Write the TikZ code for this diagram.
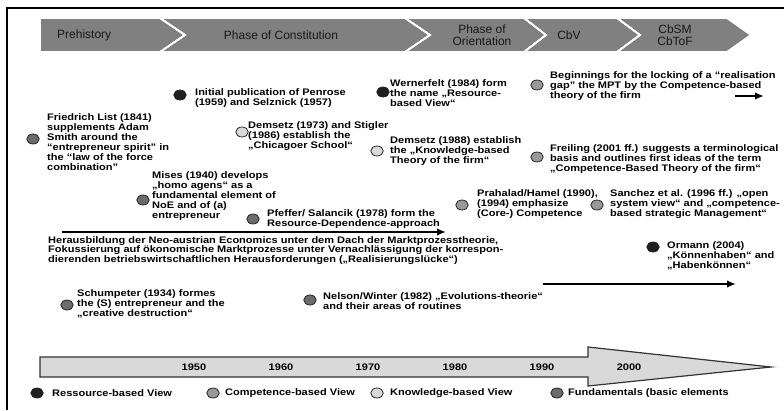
\documentclass[tikz,border=0pt]{standalone}
\usepackage{fontspec}
\setmainfont{Liberation Sans}
\newfontfamily\evfamily[FakeStretch=1.16]{Liberation Sans}
\usetikzlibrary{arrows.meta,shapes.geometric}

\begin{document}
\begin{tikzpicture}[x=1pt,y=-1pt,
  dot/.style={ellipse,draw=black!85,line width=0.8pt,minimum width=12.5pt,minimum height=10pt,inner sep=0pt},
  rbv/.style={dot,fill=black!88},
  cbv/.style={dot,fill=black!40},
  kbv/.style={dot,fill=black!15},
  fund/.style={dot,fill=black!58},
  evfont/.style={font=\evfamily\bfseries\fontsize{9.5}{10}\selectfont},
  event/.style={evfont,anchor=north west,inner sep=0pt,align=left},
  legend/.style={evfont,anchor=west,inner sep=0pt},
  year/.style={evfont,inner sep=0pt},
  phase/.style={fill=black!50,draw=white,line width=1.6pt,line join=miter},
  phaselabel/.style={inner sep=0pt,align=center,text=black!90,font=\fontsize{12}{12}\selectfont},
  flow/.style={line width=1.8pt,-{Latex[length=9pt,width=7.5pt]}}
]
\useasboundingbox (0,0) rectangle (784,410);

% frame
\draw[line width=1.3pt] (7,410) -- (7,8) -- (784,8);

% phase band
\fill[phase] (40,18) -- (160,18) -- (185,35) -- (160,52) -- (40,52) -- cycle;
\fill[phase] (160,18) -- (405,18) -- (430,35) -- (405,52) -- (160,52) -- (185,35) -- cycle;
\fill[phase] (405,18) -- (524,18) -- (546,35) -- (524,52) -- (405,52) -- (430,35) -- cycle;
\fill[phase] (524,18) -- (617,18) -- (640,35) -- (617,52) -- (524,52) -- (546,35) -- cycle;
\fill[phase] (617,18) -- (727,18) -- (751,35) -- (727,52) -- (617,52) -- (640,35) -- cycle;
\draw[phase,fill=none] (40,18) -- (160,18) -- (185,35) -- (160,52) -- (40,52) -- cycle;
\draw[phase,fill=none] (160,18) -- (405,18) -- (430,35) -- (405,52) -- (160,52) -- (185,35) -- cycle;
\draw[phase,fill=none] (405,18) -- (524,18) -- (546,35) -- (524,52) -- (405,52) -- (430,35) -- cycle;
\draw[phase,fill=none] (524,18) -- (617,18) -- (640,35) -- (617,52) -- (524,52) -- (546,35) -- cycle;
\draw[phase,fill=none] (617,18) -- (727,18) -- (751,35) -- (727,52) -- (617,52) -- (640,35) -- cycle;

\node[phaselabel,anchor=west] (ph1) at (57,35) {Prehistory};
\node[phaselabel] (ph2) at (281,35) {Phase of Constitution};
\node[phaselabel] (ph3) at (482,35) {Phase of\\Orientation};
\node[phaselabel] (ph4) at (569,35) {CbV};
\node[phaselabel] (ph5) at (675,35) {CbSM\\CbToF};

% events
\node[fund] (list) at (33,139) {};
\node[event] (listT) at (47,113) {Friedrich List (1841)\\supplements Adam\\Smith around the\\“entrepreneur spirit” in\\the “law of the force\\combination”};

\node[rbv] (pen) at (180,95) {};
\node[event] (penT) at (195,88) {Initial publication of Penrose\\(1959) and Selznick (1957)};

\node[kbv] (dem73) at (242,132) {};
\node[event] (dem73T) at (248,121) {Demsetz (1973) and Stigler\\(1986) establish the\\„Chicagoer School“};

\node[fund] (mises) at (143,200) {};
\node[event] (misesT) at (152,171) {Mises (1940) develops\\„homo agens“ as a\\fundamental element of\\NoE and of (a)\\entrepreneur};

\node[fund] (pfe) at (253,219) {};
\node[event] (pfeT) at (267,209) {Pfeffer/ Salancik (1978) form the\\Resource-Dependence-approach};

\coordinate (mpA) at (62,232);
\coordinate (mpB) at (446,232);
\draw[flow] (mpA) -- (mpB);
\node[event,font=\evfamily\bfseries\fontsize{9.5}{9.6}\selectfont] (mpT) at (48,236) {Herausbildung der Neo-austrian Economics unter dem Dach der Marktprozesstheorie,\\Fokussierung auf ökonomische Marktprozesse unter Vernachlässigung der korrespon-\\dierenden betriebswirtschaftlichen Herausforderungen („Realisierungslücke“)};

\node[fund] (schu) at (67,305) {};
\node[event] (schuT) at (77,289) {Schumpeter (1934) formes\\the (S) entrepreneur and the\\„creative destruction“};

\node[fund] (nel) at (310,300) {};
\node[event] (nelT) at (323,292) {Nelson/Winter (1982) „Evolutions-theorie“\\and their areas of routines};

\node[rbv] (wer) at (383,92) {};
\node[event] (werT) at (390,79) {Wernerfelt (1984) form\\the name „Resource-\\based View“};

\node[kbv] (dem88) at (377,151) {};
\node[event] (dem88T) at (390,136) {Demsetz (1988) establish\\the „Knowledge-based\\Theory of the firm“};

\node[cbv] (pra) at (462,205) {};
\node[event] (praT) at (477,189) {Prahalad/Hamel (1990),\\(1994) emphasize\\(Core-) Competence};

\node[cbv] (san) at (597,205) {};
\node[event] (sanT) at (610,189) {Sanchez et al. (1996 ff.) „open\\system view“ and „competence-\\based strategic Management“};

\node[rbv] (orm) at (653,247) {};
\node[event] (ormT) at (667,241) {Ormann (2004)\\„Könnenhaben“ and\\„Habenkönnen“};

\coordinate (frA) at (543,284);
\coordinate (frB) at (736,284);
\draw[flow] (frA) -- (frB);

\node[cbv] (beg) at (537,85) {};
\node[event] (begT) at (550,71) {Beginnings for the locking of a “realisation\\gap” the MPT by the Competence-based\\theory of the firm};
\coordinate (bgA) at (735,96);
\coordinate (bgB) at (764,96);
\draw[flow] (bgA) -- (bgB);

\node[cbv] (fre) at (537,157) {};
\node[event] (freT) at (550,144) {Freiling (2001 ff.) suggests a terminological\\basis and outlines first ideas of the term\\„Competence-Based Theory of the firm“};

% time axis
\draw[fill=black!15,draw=black!80,line width=1.2pt,line join=miter]
  (40,357) -- (588,357) -- (588,347) -- (771,367) -- (588,386) -- (588,377) -- (40,377) -- cycle;
\foreach \yr [count=\i from 0] in {1950,1960,1970,1980,1990,2000}
  \node[year] (y\yr) at (194+87*\i,367) {\yr};

% legend
\node[rbv] (lg1) at (37,393) {};
\node[legend] (lg1T) at (52,393) {Ressource-based View};
\node[cbv] (lg2) at (213,393) {};
\node[legend] (lg2T) at (225,393) {Competence-based View};
\node[kbv] (lg3) at (377,393) {};
\node[legend] (lg3T) at (390,393) {Knowledge-based View};
\node[fund] (lg4) at (557,393) {};
\node[legend] (lg4T) at (568,393) {Fundamentals (basic elements};
\end{tikzpicture}
\end{document}
